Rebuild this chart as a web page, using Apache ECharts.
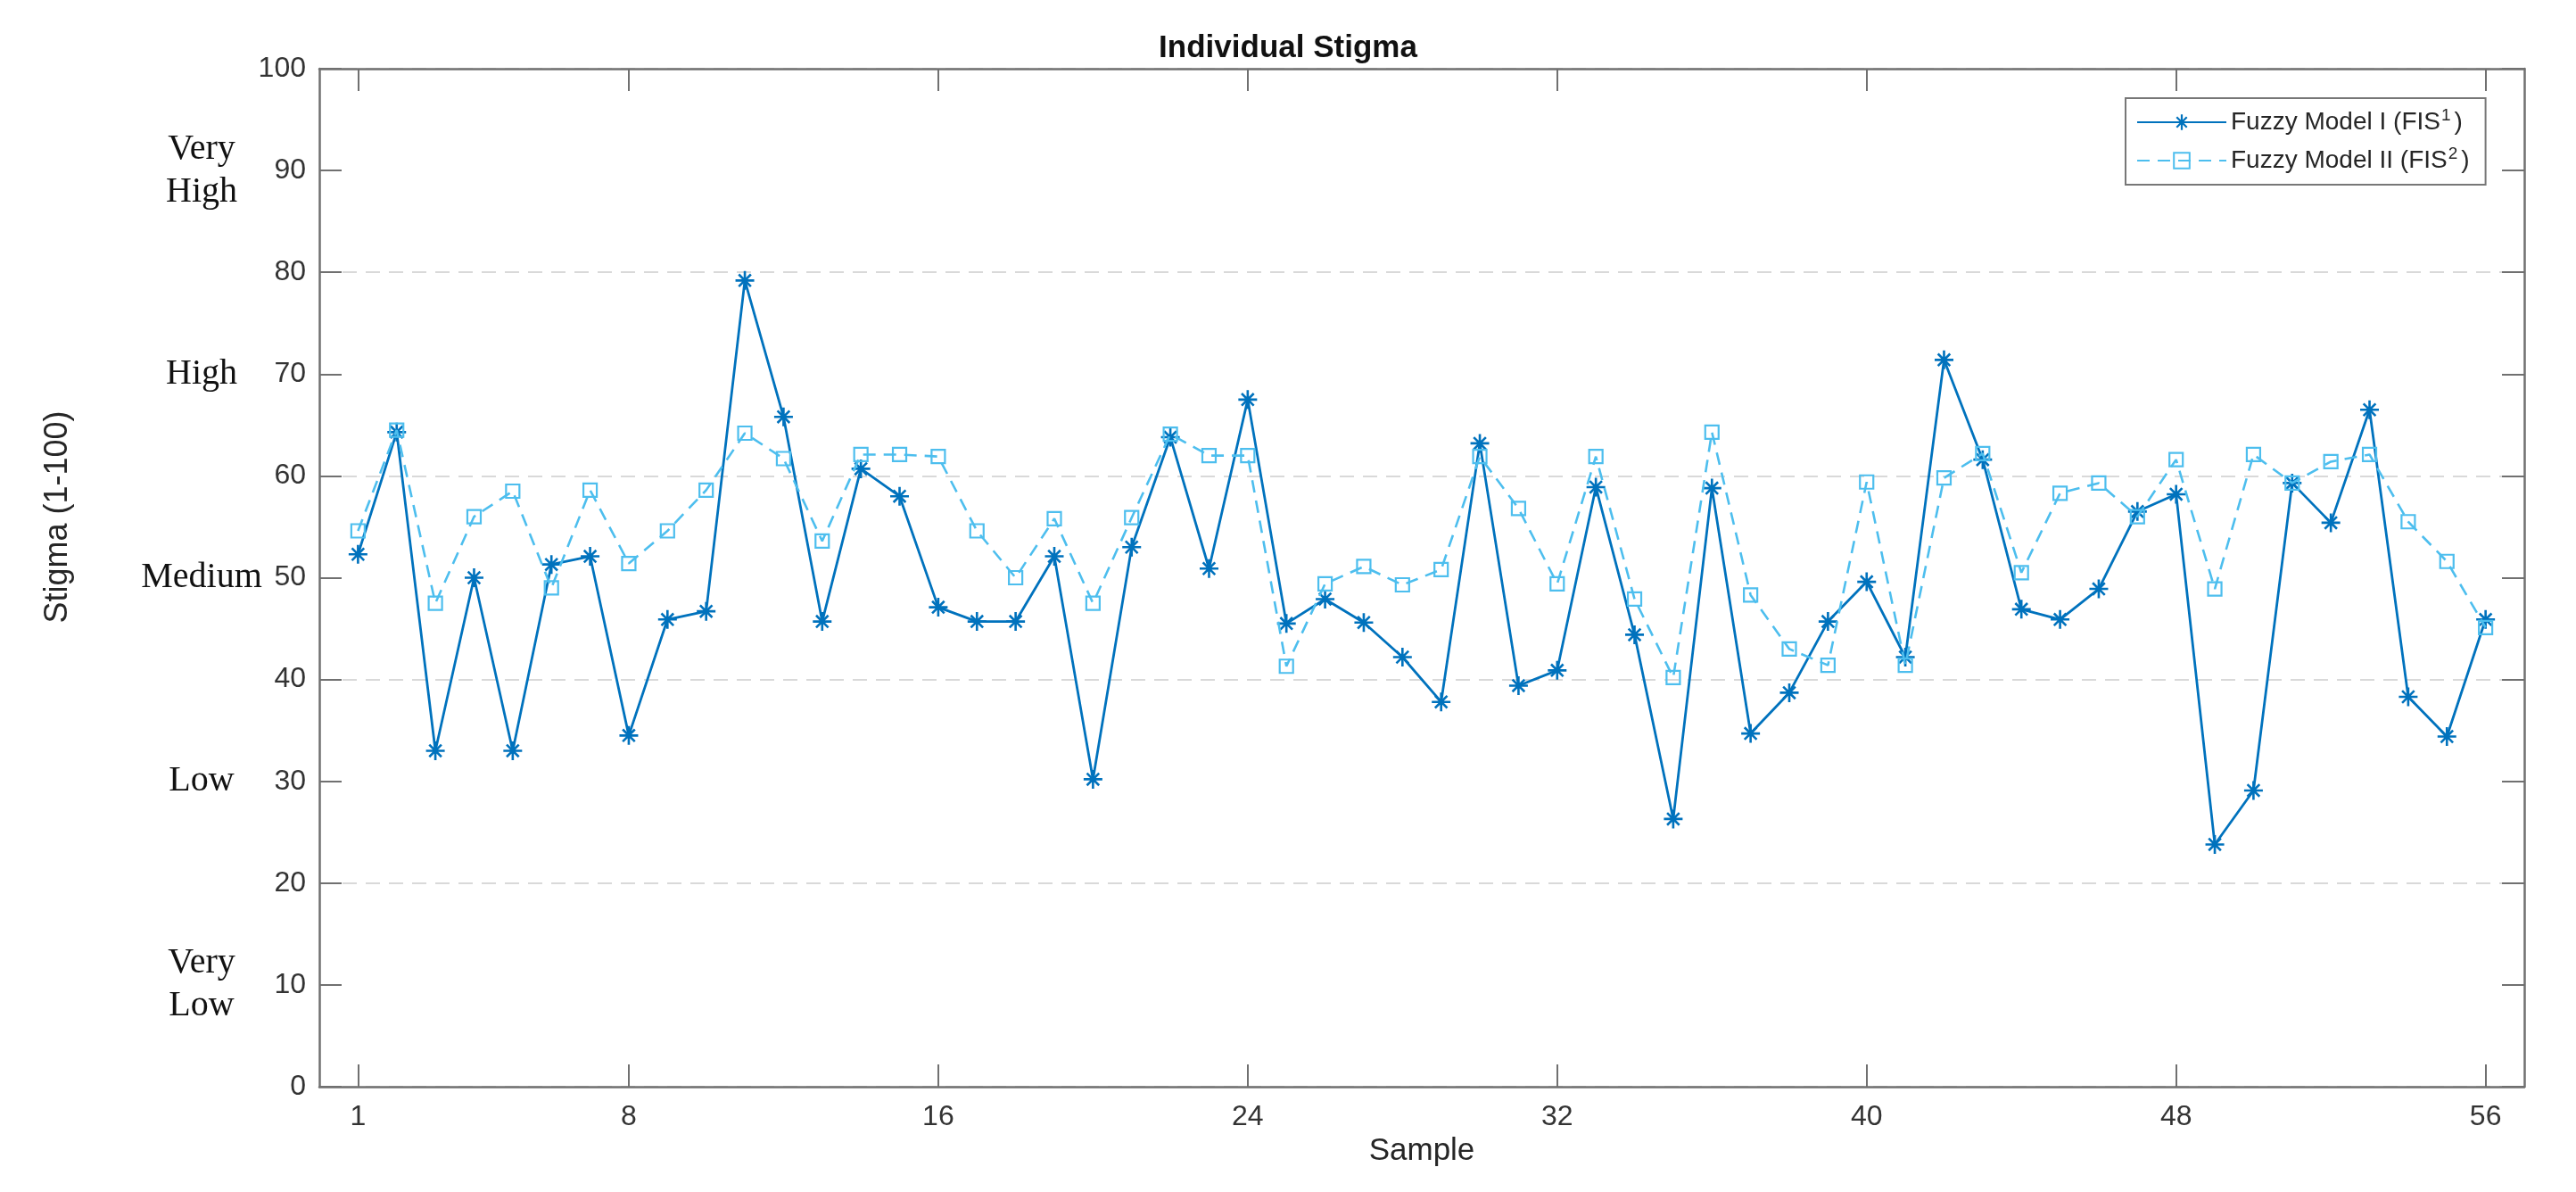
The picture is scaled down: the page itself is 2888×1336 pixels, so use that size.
<!DOCTYPE html>
<html>
<head>
<meta charset="utf-8">
<script src="https://cdn.jsdelivr.net/npm/echarts@6/dist/echarts.min.js"></script>
<style>html,body{margin:0;padding:0;background:#fff}#c{width:2888px;height:1336px}</style>
</head>
<body>
<div id="c"></div>
<script>
const samples = [1,2,3,4,5,6,7,8,9,10,11,12,13,14,15,16,17,18,19,20,21,22,23,24,25,26,27,28,29,30,31,32,33,34,35,36,37,38,39,40,41,42,43,44,45,46,47,48,49,50,51,52,53,54,55,56];
const fis1 = [52.3,64.3,33.0,50.0,33.0,51.3,52.1,34.5,45.9,46.7,79.2,65.8,45.7,60.7,58.0,
  47.1,45.7,45.7,52.1,30.2,53.0,63.8,50.9,67.5,45.5,47.9,45.6,42.2,37.8,
  63.2,39.4,40.9,58.9,44.4,26.3,58.8,34.7,38.7,45.7,49.6,42.2,71.4,
  61.6,46.9,45.9,48.9,56.5,58.2,23.8,29.1,59.3,55.4,66.5,38.3,34.4,45.9];
const fis2 = [54.6,64.5,47.5,56.0,58.5,49.0,58.6,51.4,54.6,58.6,64.2,61.7,53.6,62.1,62.1,
  61.9,54.6,50.0,55.8,47.5,55.9,64.1,62.0,62.0,41.3,49.4,51.1,49.3,50.8,
  61.9,56.8,49.4,61.9,47.9,40.2,64.3,48.3,43.0,41.4,59.4,41.4,59.8,
  62.2,50.5,58.3,59.3,56.0,61.6,48.9,62.1,59.3,61.4,62.1,55.5,51.6,45.1];
const xTickLabels = [1,8,16,24,32,40,48,56];
const levelValues = [10,30,50,70,90];
const levelLabels = ['Very\nLow','Low','Medium','High','Very\nHigh'];
const seriesNames = ['Fuzzy Model I (FIS\u00B9)','Fuzzy Model II (FIS\u00B2)'];

const asterisk = 'path://M0 10.5L24 10.5L24 13.5L0 13.5Z M10.5 0L13.5 0L13.5 24L10.5 24Z M5.26 3.14L20.86 18.74L18.74 20.86L3.14 5.26Z M18.74 3.14L20.86 5.26L5.26 20.86L3.14 18.74Z';

const axisCol = '#707070';
const sans = 'Liberation Sans, Arial, Helvetica, sans-serif';

const chart = echarts.init(document.getElementById('c'), null, {renderer: 'canvas'});
const option = {
  backgroundColor: '#fff',
  animation: false,
  title: {
    text: 'Individual Stigma',
    left: 'center',
    top: 32,
    textStyle: {fontFamily: sans, fontSize: 35, fontWeight: 'bold', color: '#111'}
  },
  legend: {
    orient: 'vertical',
    left: 2383,
    top: 110,
    padding: [10, 18, 10, 12],
    itemGap: 9,
    itemWidth: 100,
    itemHeight: 22,
    borderColor: '#777',
    borderWidth: 2,
    backgroundColor: '#fff',
    formatter: function (n) { return n.replace('\u00B9', '{sup|1}').replace('\u00B2', '{sup|2}'); },
    textStyle: {
      fontFamily: sans, fontSize: 28, lineHeight: 34, color: '#262626',
      rich: {sup: {fontFamily: sans, fontSize: 19, lineHeight: 34, verticalAlign: 'top', color: '#262626', padding: [0, 4, 0, 1]}}
    },
    data: seriesNames
  },
  grid: {left: 358, right: 58, top: 77, bottom: 118, containLabel: false},
  xAxis: [
    {
      type: 'value', min: 0, max: 57, position: 'bottom',
      name: 'Sample', nameLocation: 'middle', nameGap: 55,
      nameTextStyle: {fontFamily: sans, fontSize: 35, color: '#262626'},
      axisLine: {show: true, onZero: false, lineStyle: {color: axisCol, width: 2.5}},
      axisTick: {show: true, inside: true, length: 25, customValues: xTickLabels, lineStyle: {color: axisCol, width: 2}},
      axisLabel: {show: true, customValues: xTickLabels, margin: 18, fontFamily: sans, fontSize: 32, color: '#333'},
      splitLine: {show: false}
    },
    {
      type: 'value', min: 0, max: 57, position: 'top',
      axisLine: {show: true, onZero: false, lineStyle: {color: axisCol, width: 2.5}},
      axisTick: {show: true, inside: true, length: 25, customValues: xTickLabels, lineStyle: {color: axisCol, width: 2}},
      axisLabel: {show: false},
      splitLine: {show: false}
    }
  ],
  yAxis: [
    {
      type: 'value', min: 0, max: 100, interval: 10, position: 'left',
      name: 'Stigma (1-100)', nameLocation: 'middle', nameGap: 275,
      nameTextStyle: {fontFamily: sans, fontSize: 36, color: '#262626', padding: [0, 0, 0, 136]},
      axisLine: {show: true, onZero: false, lineStyle: {color: axisCol, width: 2.5}},
      axisTick: {show: true, inside: true, length: 25, lineStyle: {color: axisCol, width: 2}},
      axisLabel: {show: true, margin: 15, fontFamily: sans, fontSize: 32, color: '#333'},
      splitLine: {show: false}
    },
    {
      type: 'value', min: 0, max: 100, position: 'left', offset: 0,
      axisLine: {show: false},
      axisTick: {show: false},
      axisLabel: {
        show: true, customValues: levelValues, margin: 132, align: 'center',
        fontFamily: 'Liberation Serif, Times New Roman, serif', fontSize: 40, lineHeight: 48, color: '#111',
        formatter: function (v) { const i = levelValues.indexOf(v); return i >= 0 ? levelLabels[i] : ''; }
      },
      splitLine: {show: false}
    },
    {
      type: 'value', min: 0, max: 100, interval: 10, position: 'right', offset: 0,
      axisLine: {show: true, onZero: false, lineStyle: {color: axisCol, width: 2.5}},
      axisTick: {show: true, inside: true, length: 25, lineStyle: {color: axisCol, width: 2}},
      axisLabel: {show: false},
      splitLine: {show: false}
    },
    {
      type: 'value', min: 0, max: 100, interval: 20, position: 'right', offset: 0,
      axisLine: {show: false}, axisTick: {show: false}, axisLabel: {show: false},
      splitLine: {show: true, lineStyle: {color: '#d9d9d9', width: 2, type: [16, 10]}}
    }
  ],
  series: [
    {
      name: seriesNames[0], type: 'line', xAxisIndex: 0, yAxisIndex: 0,
      data: samples.map((s, i) => [s, fis1[i]]),
      symbol: asterisk, symbolSize: 21, showAllSymbol: true,
      lineStyle: {color: '#0072BD', width: 2.8, type: 'solid'},
      itemStyle: {color: '#0072BD'},
      z: 3
    },
    {
      name: seriesNames[1], type: 'line', xAxisIndex: 0, yAxisIndex: 0,
      data: samples.map((s, i) => [s, fis2[i]]),
      symbol: 'rect', symbolSize: 15, showAllSymbol: true,
      lineStyle: {color: '#4DBEEE', width: 2.6, type: [14, 9]},
      itemStyle: {color: 'rgba(255,255,255,0)', borderColor: '#4DBEEE', borderWidth: 2.2},
      z: 4
    }
  ]
};
chart.setOption(option);
</script>
</body>
</html>
